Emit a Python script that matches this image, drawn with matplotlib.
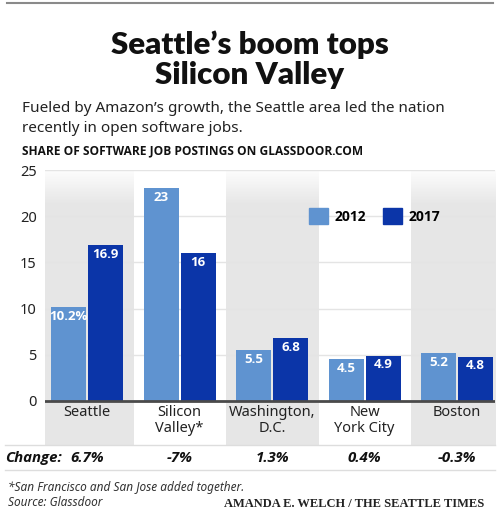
import numpy as np
import matplotlib
matplotlib.use("Agg")
import matplotlib.pyplot as plt
from matplotlib.lines import Line2D
from matplotlib.patches import Patch

# data
cities = ["Seattle", "Silicon\nValley*", "Washington,\nD.C.", "New\nYork City", "Boston"]
share_2012 = [10.2, 23, 5.5, 4.5, 5.2]
share_2017 = [16.9, 16, 6.8, 4.9, 4.8]
labels_2012 = ["10.2%", "23", "5.5", "4.5", "5.2"]
labels_2017 = ["16.9", "16", "6.8", "4.9", "4.8"]
change = ["6.7%", "-7%", "1.3%", "0.4%", "-0.3%"]

light_blue = "#5f93d0"
dark_blue = "#0b35a8"
W, H = 500, 512
BOLD = "Open Sans"


def fx(px):
    return px / W


def fy(py):
    return 1 - py / H


fig = plt.figure(figsize=(5, 5.12), dpi=100)
fig.patch.set_facecolor("white")

# axes spans from value 25 (y=170px) down to bottom of category band (y=445px)
ymin = -(445 - 401) / 9.24
ax = fig.add_axes([fx(45), fy(445), fx(450), (445 - 170) / H])
for s in ax.spines.values():
    s.set_visible(False)

# alternating gray bands with a soft fade at the top
fade = np.linspace(0, 1, 200)
shade = np.clip(fade / 0.12, 0, 1)
grey = 0.99 - (0.99 - 0.905) * shade
img = np.dstack([grey, grey, grey]).reshape(200, 1, 3)
for i in [0, 2, 4]:
    ax.imshow(img, extent=[i - 0.5, i + 0.5, ymin, 25], origin="upper",
              aspect="auto", zorder=0)
ax.set_xlim(-0.454, 4.41)
ax.set_ylim(ymin, 25)

for v in [5, 10, 15, 20, 25]:
    ax.axhline(v, color="#e4e4e4", lw=1, zorder=1)

x = np.arange(len(cities))
w = 0.378
ax.bar(x - 0.2, share_2012, w, color=light_blue, zorder=2)
ax.bar(x + 0.2, share_2017, w, color=dark_blue, zorder=2)
ax.axhline(0, color="#4a4a4a", lw=2, zorder=3)

for i in range(len(cities)):
    ax.text(x[i] - 0.2, share_2012[i] - 0.3, labels_2012[i], ha="center", va="top",
            color="white", fontsize=9.5, fontweight="bold", family=BOLD, zorder=4)
    ax.text(x[i] + 0.2, share_2017[i] - 0.3, labels_2017[i], ha="center", va="top",
            color="white", fontsize=9.5, fontweight="bold", family=BOLD, zorder=4)
    ax.text(x[i], -0.45, cities[i], ha="center", va="top", fontsize=10.5,
            color="#222222", family="Noto Sans", linespacing=1.1)

ax.set_xticks([])
ax.set_yticks([0, 5, 10, 15, 20, 25])
ax.tick_params(axis="y", length=0, pad=6, labelsize=10.5, labelcolor="#222222")
for t in ax.get_yticklabels():
    t.set_family("Noto Sans")

leg = ax.legend(handles=[Patch(color=light_blue, label="2012"), Patch(color=dark_blue, label="2017")],
                loc="center", bbox_to_anchor=(0.733, 0.833), ncol=2, frameon=False,
                handlelength=1.35, handleheight=1.35, handletextpad=0.5, columnspacing=1.2,
                prop={"family": BOLD, "weight": "bold", "size": 10})

# headline text
fig.add_artist(Line2D([fx(7), fx(493)], [fy(3), fy(3)], color="#8a8a8a", lw=1.5))
fig.text(0.5, fy(45), "Seattle\u2019s boom tops", ha="center", va="center",
         fontsize=22.5, fontweight="heavy", family="Lato", color="#111111")
fig.text(0.5, fy(75), "Silicon Valley", ha="center", va="center",
         fontsize=22.5, fontweight="heavy", family="Lato", color="#111111")
fig.text(fx(22), fy(108), "Fueled by Amazon\u2019s growth, the Seattle area led the nation",
         ha="left", va="center", fontsize=11, family="Noto Sans", color="#222222")
fig.text(fx(22), fy(128), "recently in open software jobs.",
         ha="left", va="center", fontsize=11, family="Noto Sans", color="#222222")
fig.text(fx(22), fy(151), "SHARE OF SOFTWARE JOB POSTINGS ON GLASSDOOR.COM",
         ha="left", va="center", fontsize=8.6, fontweight="bold", family=BOLD,
         color="#111111")

# change row
for py in [445, 470]:
    fig.add_artist(Line2D([fx(5), fx(495)], [fy(py), fy(py)], color="#dddddd", lw=1))
fig.text(fx(5), fy(458), "Change:", ha="left", va="center", fontsize=10.8,
         fontweight="bold", style="italic", family=BOLD, color="#111111")
for i in range(len(cities)):
    fig.text(fx(87 + 92.5 * i), fy(458), change[i], ha="center", va="center", fontsize=10.8,
             fontweight="bold", style="italic", family=BOLD, color="#111111")

# footnotes
fig.text(fx(8), fy(488), "*San Francisco and San Jose added together.", ha="left", va="center",
         fontsize=8.5, style="italic", family="Noto Sans", color="#333333")
fig.text(fx(8), fy(503), "Source: Glassdoor", ha="left", va="center",
         fontsize=8.5, style="italic", family="Noto Sans", color="#333333")
fig.text(fx(484), fy(504), "AMANDA E. WELCH / THE SEATTLE TIMES", ha="right", va="center",
         fontsize=9, fontweight="bold", family="Liberation Serif", color="#222222")

fig.savefig("out.png", dpi=100, facecolor="white")
